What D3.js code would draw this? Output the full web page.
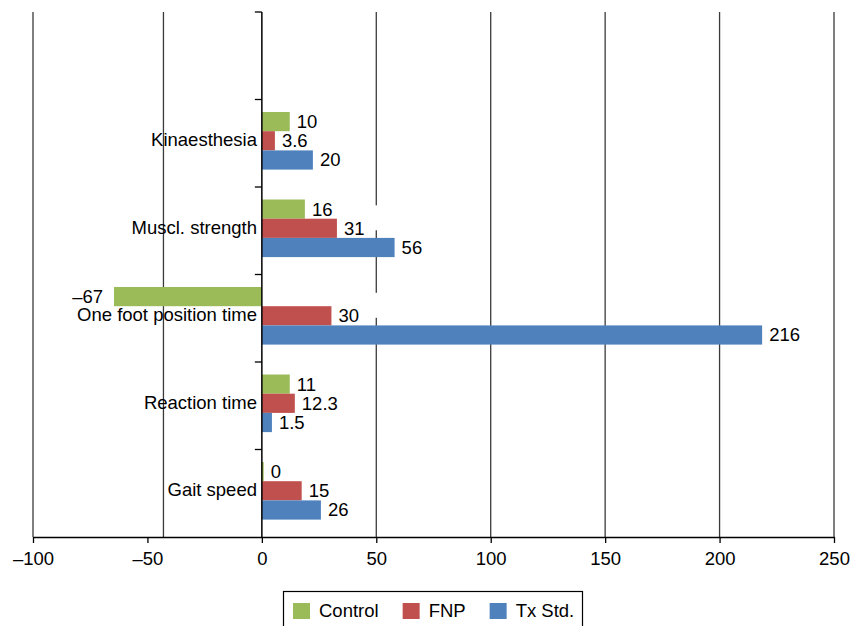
<!DOCTYPE html>
<html>
<head>
<meta charset="utf-8">
<script src="https://cdn.jsdelivr.net/npm/d3@7"></script>
<style>
  body { margin: 0; background: white; }
  text { font-family: "Liberation Sans", Arial, sans-serif; }
</style>
</head>
<body>
<div id="canvas"></div>
<script>
var w = 850;
var h = 626;
var fs = "18.5px";

// categories, top to bottom
var categories = ["Kinaesthesia", "Muscl. strength", "One foot position time", "Reaction time", "Gait speed"];
var series = ["Control", "FNP", "Tx Std."];
var colors = ["#9BBB59", "#C0504D", "#4F81BD"];

// bar lengths
var controlValues = [12.2, 18.8, -64.6, 12.2, 0.8];
var fnpValues = [5.7, 32.8, 30.4, 14.4, 17.4];
var txValues = [22.3, 58, 218.6, 4.4, 25.8];

// the printed value labels
var controlLabels = ["10", "16", "\u201367", "11", "0"];
var fnpLabels = ["3.6", "31", "30", "12.3", "15"];
var txLabels = ["20", "56", "216", "1.5", "26"];

var xTicks = [-100, -50, 0, 50, 100, 150, 200, 250];
// vertical grid lines as drawn (the one near -50 sits off its tick)
var gridValues = [-100, -43, 50, 100, 150, 200, 250];

var rows = [];
categories.forEach(function(c, i){
  rows.push({cat: c, s: 0, v: controlValues[i], label: controlLabels[i]});
  rows.push({cat: c, s: 1, v: fnpValues[i], label: fnpLabels[i]});
  rows.push({cat: c, s: 2, v: txValues[i], label: txLabels[i]});
});

var svg = d3.select("#canvas").append("svg")
  .attr("width", w)
  .attr("height", h)
  .style("background-color", "white");

var xScale = d3.scaleLinear()
  .domain([-100, 250])
  .range([33, 834]);

var yScale = d3.scaleBand()
  .domain(categories)
  .range([99.5, 537]);

var step = yScale.step();
var plotTop = yScale.range()[0] - step;
var plotBottom = yScale.range()[1];

var sub = d3.scaleBand()
  .domain([0, 1, 2])
  .range([12.5, 12.5 + 57.6]);

// grid lines
svg.selectAll(".grid")
  .data(gridValues)
  .join("line")
  .attr("class", "grid")
  .attr("x1", function(d){ return xScale(d); })
  .attr("x2", function(d){ return xScale(d); })
  .attr("y1", plotTop)
  .attr("y2", plotBottom)
  .attr("stroke", "#3a3a3a")
  .attr("stroke-width", 1.3);

function barY(d){ return yScale(d.cat) + sub(d.s); }
function barEnd(d){ return xScale(d.v); }

// white boxes behind labels (they cut the grid lines)
svg.selectAll(".lblbox")
  .data(rows)
  .join("rect")
  .attr("class", "lblbox")
  .attr("fill", "white")
  .attr("x", function(d){ return d.v < 0 ? barEnd(d) - 50 : barEnd(d) + 3; })
  .attr("y", function(d){ return barY(d) + sub.bandwidth()/2 - 23; })
  .attr("width", 44)
  .attr("height", 25);

// bars
svg.selectAll(".bar")
  .data(rows)
  .join("rect")
  .attr("class", "bar")
  .attr("x", function(d){ return Math.min(xScale(0), xScale(d.v)); })
  .attr("width", function(d){ return Math.abs(xScale(d.v) - xScale(0)); })
  .attr("y", barY)
  .attr("height", sub.bandwidth())
  .attr("fill", function(d){ return colors[d.s]; });

// value labels
svg.selectAll(".val")
  .data(rows)
  .join("text")
  .attr("class", "val")
  .attr("x", function(d){ return d.v < 0 ? barEnd(d) - 11 : barEnd(d) + 7; })
  .attr("y", function(d){ return barY(d) + sub.bandwidth()/2; })
  .attr("dy", "0.35em")
  .attr("text-anchor", function(d){ return d.v < 0 ? "end" : "start"; })
  .style("font-size", fs)
  .attr("fill", "black")
  .text(function(d){ return d.label; });

// category labels
svg.selectAll(".cat")
  .data(categories)
  .join("text")
  .attr("class", "cat")
  .attr("x", 257)
  .attr("y", function(d){ return yScale(d) + sub(1) + sub.bandwidth()/2 - 1; })
  .attr("dy", "0.35em")
  .attr("text-anchor", "end")
  .style("font-size", fs)
  .attr("fill", "black")
  .text(function(d){ return d; });

// zero axis with category ticks at band edges
var edges = [plotTop].concat(categories.map(function(c){ return yScale(c); }));
svg.selectAll(".ytick")
  .data(edges)
  .join("line")
  .attr("class", "ytick")
  .attr("x1", xScale(0) - 7)
  .attr("x2", xScale(0))
  .attr("y1", function(d){ return d; })
  .attr("y2", function(d){ return d; })
  .attr("stroke", "black")
  .attr("stroke-width", 1.3);

svg.append("line")
  .attr("x1", xScale(0))
  .attr("x2", xScale(0))
  .attr("y1", plotTop)
  .attr("y2", plotBottom)
  .attr("stroke", "black")
  .attr("stroke-width", 1.5);

// x axis
var xAxis = d3.axisBottom(xScale)
  .tickValues(xTicks)
  .tickSize(6)
  .tickSizeOuter(0)
  .tickFormat(function(d){ return d < 0 ? "\u2013" + Math.abs(d) : d; });

var gx = svg.append("g")
  .attr("transform", "translate(0," + plotBottom + ")")
  .call(xAxis);
gx.select(".domain").attr("stroke", "black").attr("stroke-width", 1.5);
gx.selectAll(".tick line").attr("stroke", "black").attr("stroke-width", 1.3);
gx.selectAll(".tick text")
  .attr("y", 22)
  .attr("dy", "0.35em")
  .style("font-size", fs)
  .style("font-family", "'Liberation Sans', Arial, sans-serif")
  .attr("fill", "black");

// legend
var legend = svg.append("g");
legend.append("rect")
  .attr("x", 283.5)
  .attr("y", 591.5)
  .attr("width", 299)
  .attr("height", 45)
  .attr("fill", "white")
  .attr("stroke", "black")
  .attr("stroke-width", 1.2);

var lx = 293;
series.forEach(function(s, i){
  legend.append("rect")
    .attr("x", lx)
    .attr("y", 603)
    .attr("width", 17)
    .attr("height", 16)
    .attr("fill", colors[i]);
  var t = legend.append("text")
    .attr("x", lx + 26)
    .attr("y", 611)
    .attr("dy", "0.35em")
    .style("font-size", fs)
    .attr("fill", "black")
    .text(s);
  lx = lx + 26 + t.node().getComputedTextLength() + 24;
});
</script>
</body>
</html>
